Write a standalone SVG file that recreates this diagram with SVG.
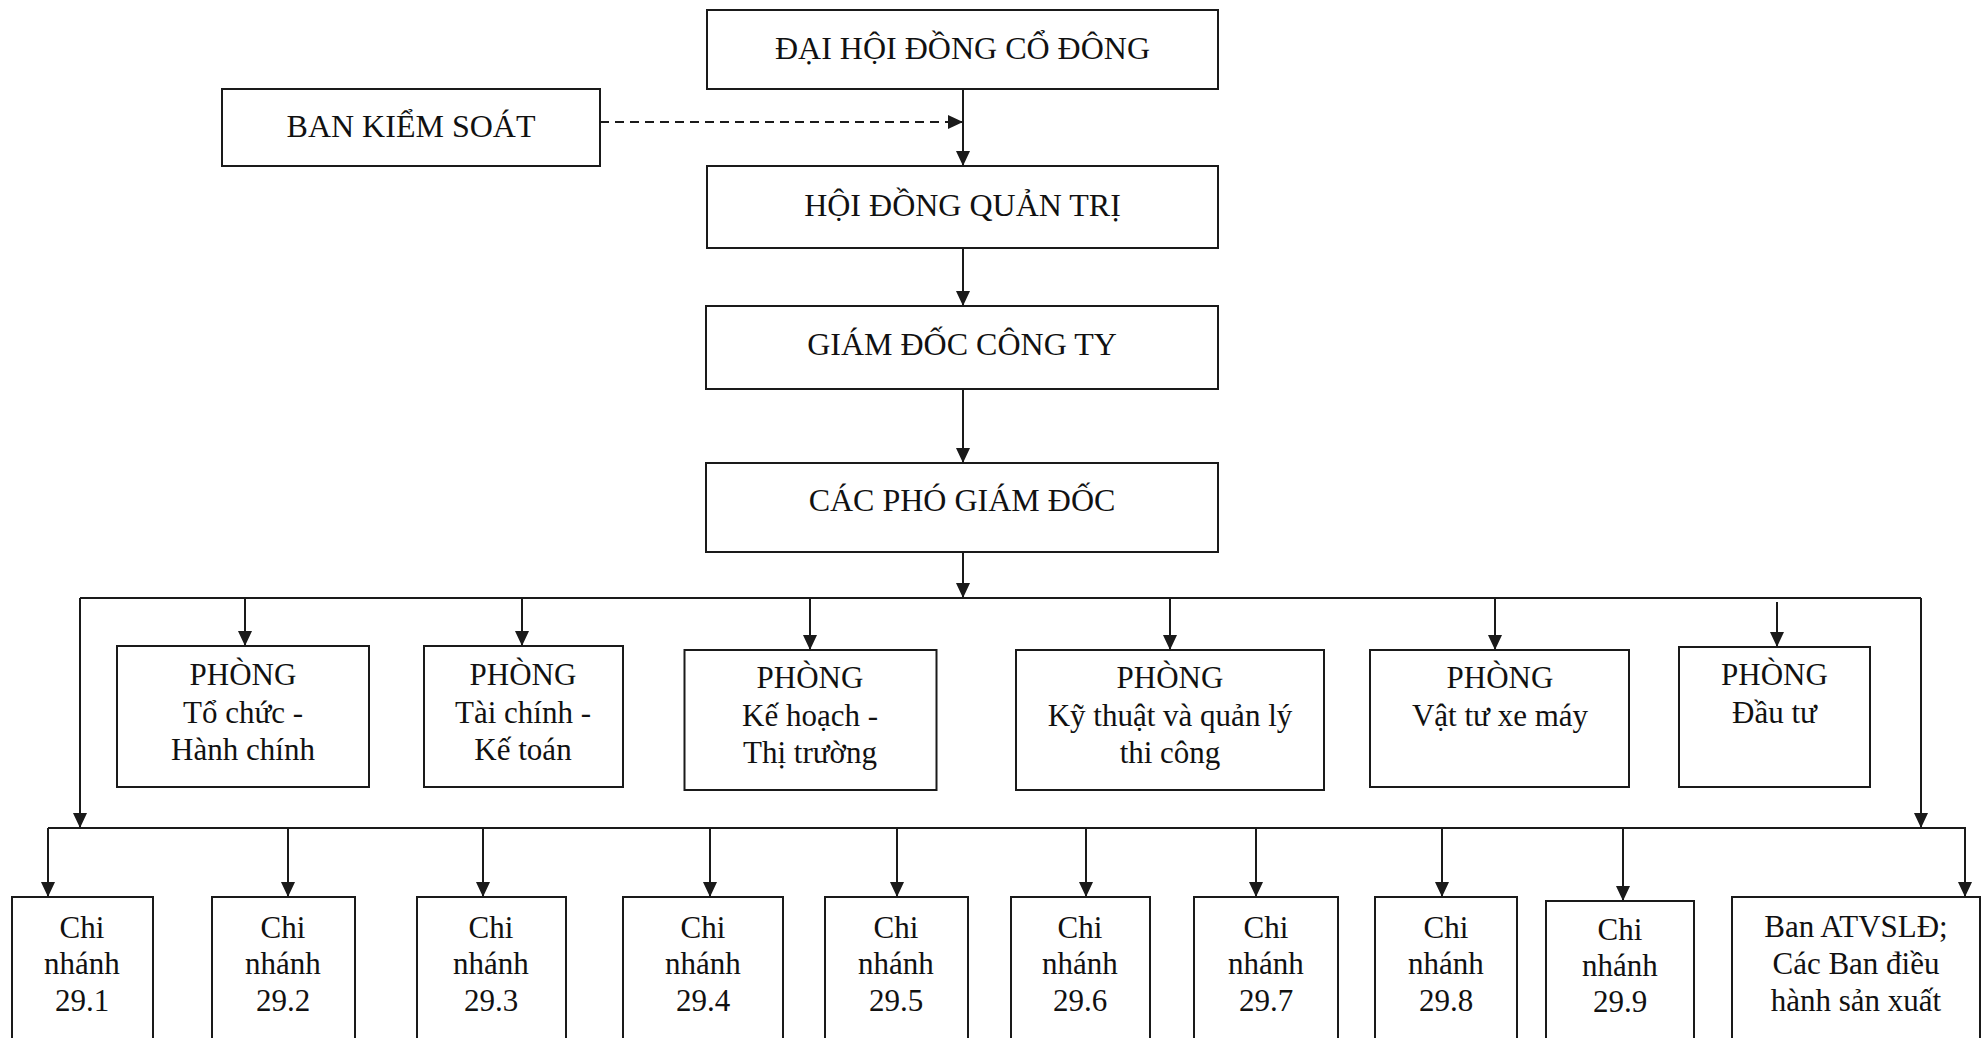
<svg xmlns="http://www.w3.org/2000/svg" width="1986" height="1038" viewBox="0 0 1986 1038">
<style>
.box{fill:#fff;stroke:#1a1a1a;stroke-width:2}
.t{font-family:"Liberation Serif","Times New Roman",serif;font-size:31px;fill:#111;text-anchor:middle}
.cap{font-size:32px}
.ln{stroke:#1a1a1a;stroke-width:2;fill:none}
.dash{stroke-dasharray:9 6}
</style>
<defs>
<marker id="ah" markerUnits="userSpaceOnUse" markerWidth="15" markerHeight="14" viewBox="0 0 15 14" refX="15" refY="7" orient="auto"><path d="M0,0 L15,7 L0,14 z" fill="#1a1a1a"/></marker>
</defs>
<rect width="1986" height="1038" fill="#fff"/>
<g id="connectors">
<path class="ln dash" d="M600,122 H963" marker-end="url(#ah)"/>
<path class="ln" d="M963,89 V166" marker-end="url(#ah)"/>
<path class="ln" d="M963,248 V306" marker-end="url(#ah)"/>
<path class="ln" d="M963,389 V463" marker-end="url(#ah)"/>
<path class="ln" d="M963,552 V598" marker-end="url(#ah)"/>
<path class="ln" d="M80,598 H1921"/>
<path class="ln" d="M80,598 V828" marker-end="url(#ah)"/>
<path class="ln" d="M1921,598 V828" marker-end="url(#ah)"/>
<path class="ln" d="M245,598 V646" marker-end="url(#ah)"/>
<path class="ln" d="M522,598 V646" marker-end="url(#ah)"/>
<path class="ln" d="M810,598 V650" marker-end="url(#ah)"/>
<path class="ln" d="M1170,598 V650" marker-end="url(#ah)"/>
<path class="ln" d="M1495,598 V650" marker-end="url(#ah)"/>
<path class="ln" d="M1777,602 V647" marker-end="url(#ah)"/>
<path class="ln" d="M48,828 H1966"/>
<path class="ln" d="M48,828 V897" marker-end="url(#ah)"/>
<path class="ln" d="M288,828 V897" marker-end="url(#ah)"/>
<path class="ln" d="M483,828 V897" marker-end="url(#ah)"/>
<path class="ln" d="M710,828 V897" marker-end="url(#ah)"/>
<path class="ln" d="M897,828 V897" marker-end="url(#ah)"/>
<path class="ln" d="M1086,828 V897" marker-end="url(#ah)"/>
<path class="ln" d="M1256,828 V897" marker-end="url(#ah)"/>
<path class="ln" d="M1442,828 V897" marker-end="url(#ah)"/>
<path class="ln" d="M1623,828 V901" marker-end="url(#ah)"/>
<path class="ln" d="M1965,828 V897" marker-end="url(#ah)"/>
</g>
<g id="dai-hoi"><rect class="box" x="707" y="10" width="511" height="79"/><text class="t cap" x="962.5" y="59">ĐẠI HỘI ĐỒNG CỔ ĐÔNG</text></g>
<g id="ban-kiem-soat"><rect class="box" x="222" y="89" width="378" height="77"/><text class="t cap" x="411" y="137">BAN KIỂM SOÁT</text></g>
<g id="hdqt"><rect class="box" x="707" y="166" width="511" height="82"/><text class="t cap" x="962.5" y="216">HỘI ĐỒNG QUẢN TRỊ</text></g>
<g id="giam-doc"><rect class="box" x="706" y="306" width="512" height="83"/><text class="t cap" x="962" y="355">GIÁM ĐỐC CÔNG TY</text></g>
<g id="pho-giam-doc"><rect class="box" x="706" y="463" width="512" height="89"/><text class="t cap" x="962" y="511">CÁC PHÓ GIÁM ĐỐC</text></g>
<g id="p-tchc"><rect class="box" x="117" y="646" width="252" height="141"/><text class="t" x="243" y="685">PHÒNG</text><text class="t" x="243" y="723">Tổ chức -</text><text class="t" x="243" y="760">Hành chính</text></g>
<g id="p-tckt"><rect class="box" x="424" y="646" width="199" height="141"/><text class="t" x="523" y="685">PHÒNG</text><text class="t" x="523" y="723">Tài chính -</text><text class="t" x="523" y="760">Kế toán</text></g>
<g id="p-khtt"><rect class="box" x="684.5" y="650" width="252" height="140"/><text class="t" x="810" y="688">PHÒNG</text><text class="t" x="810" y="726">Kế hoạch -</text><text class="t" x="810" y="763">Thị trường</text></g>
<g id="p-kt"><rect class="box" x="1016" y="650" width="308" height="140"/><text class="t" x="1170" y="688">PHÒNG</text><text class="t" x="1170" y="726">Kỹ thuật và quản lý</text><text class="t" x="1170" y="763">thi công</text></g>
<g id="p-vt"><rect class="box" x="1370" y="650" width="259" height="137"/><text class="t" x="1500" y="688">PHÒNG</text><text class="t" x="1500" y="726">Vật tư xe máy</text></g>
<g id="p-dt"><rect class="box" x="1679" y="647" width="191" height="140"/><text class="t" x="1774.5" y="685">PHÒNG</text><text class="t" x="1774.5" y="723">Đầu tư</text></g>
<g id="cn-1"><rect class="box" x="12" y="897" width="141" height="160"/><text class="t" x="82" y="938">Chi</text><text class="t" x="82" y="974">nhánh</text><text class="t" x="82" y="1011">29.1</text></g>
<g id="cn-2"><rect class="box" x="212" y="897" width="143" height="160"/><text class="t" x="283" y="938">Chi</text><text class="t" x="283" y="974">nhánh</text><text class="t" x="283" y="1011">29.2</text></g>
<g id="cn-3"><rect class="box" x="417" y="897" width="149" height="160"/><text class="t" x="491" y="938">Chi</text><text class="t" x="491" y="974">nhánh</text><text class="t" x="491" y="1011">29.3</text></g>
<g id="cn-4"><rect class="box" x="623" y="897" width="160" height="160"/><text class="t" x="703" y="938">Chi</text><text class="t" x="703" y="974">nhánh</text><text class="t" x="703" y="1011">29.4</text></g>
<g id="cn-5"><rect class="box" x="825" y="897" width="143" height="160"/><text class="t" x="896" y="938">Chi</text><text class="t" x="896" y="974">nhánh</text><text class="t" x="896" y="1011">29.5</text></g>
<g id="cn-6"><rect class="box" x="1011" y="897" width="139" height="160"/><text class="t" x="1080" y="938">Chi</text><text class="t" x="1080" y="974">nhánh</text><text class="t" x="1080" y="1011">29.6</text></g>
<g id="cn-7"><rect class="box" x="1194" y="897" width="144" height="160"/><text class="t" x="1266" y="938">Chi</text><text class="t" x="1266" y="974">nhánh</text><text class="t" x="1266" y="1011">29.7</text></g>
<g id="cn-8"><rect class="box" x="1375" y="897" width="142" height="160"/><text class="t" x="1446" y="938">Chi</text><text class="t" x="1446" y="974">nhánh</text><text class="t" x="1446" y="1011">29.8</text></g>
<g id="cn-9"><rect class="box" x="1546" y="901" width="148" height="160"/><text class="t" x="1620" y="940">Chi</text><text class="t" x="1620" y="976">nhánh</text><text class="t" x="1620" y="1012">29.9</text></g>
<g id="ban-atvsld"><rect class="box" x="1732" y="897" width="248" height="160"/><text class="t" x="1856" y="937">Ban ATVSLĐ;</text><text class="t" x="1856" y="974">Các Ban điều</text><text class="t" x="1856" y="1011">hành sản xuất</text></g>
</svg>
